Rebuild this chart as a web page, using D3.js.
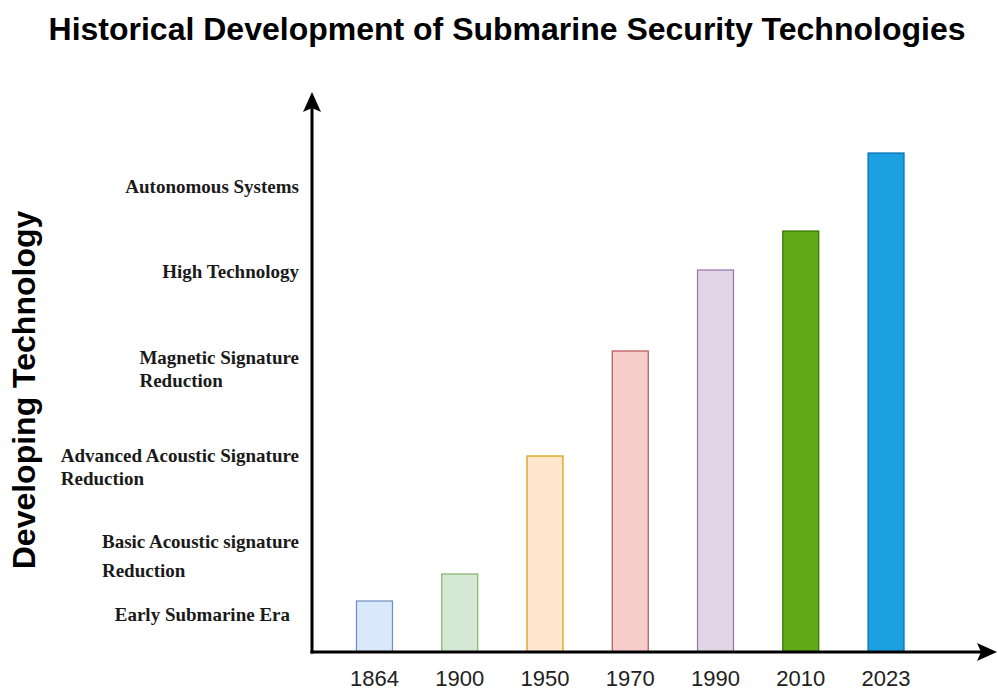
<!DOCTYPE html>
<html>
<head>
<meta charset="utf-8">
<script src="https://cdn.jsdelivr.net/npm/d3@7"></script>
<style>
  html, body { margin: 0; padding: 0; background: #fff; }
  svg { display: block; }
</style>
</head>
<body>
<svg id="chart" width="998" height="690"></svg>
<script>
// ---- data ----
const years = ["1864", "1900", "1950", "1970", "1990", "2010", "2023"];
const levels = [10.2, 15.6, 39.2, 60.2, 76.4, 84.2, 99.8];
const fills = ["#dae8fc", "#d5e8d4", "#ffe6cc", "#f8cecc", "#e1d5e7", "#60a917", "#1ba1e2"];
const strokes = ["#6c8ebf", "#82b366", "#d79b00", "#b85450", "#9673a6", "#2d7600", "#006eaf"];
const techLabels = [
  ["Early Submarine Era"],
  ["Basic Acoustic signature", "Reduction"],
  ["Advanced Acoustic Signature", "Reduction"],
  ["Magnetic Signature", "Reduction"],
  ["High Technology"],
  ["Autonomous Systems"]
];
const techLevels = [7.5, 19.2, 37, 56.6, 76.1, 93.1];
const titleText = "Historical Development of Submarine Security Technologies";
const yTitleText = "Developing Technology";

// ---- layout ----
const W = 998, H = 690;
const svg = d3.select("#chart");
const x0 = 312, y0 = 652;

const x = d3.scaleBand().domain(years).range([313, 947.5]).paddingInner(0.578).paddingOuter(0.51);
const y = d3.scaleLinear().domain([0, 100]).range([y0, 152]);

// title
svg.append("text")
  .attr("x", 507).attr("y", 40)
  .attr("text-anchor", "middle")
  .attr("font-family", "'Liberation Sans', Arial, sans-serif")
  .attr("font-weight", "bold")
  .attr("font-size", 32)
  .attr("fill", "#000")
  .text(titleText);

// y title
svg.append("text")
  .attr("transform", `translate(35,390) rotate(-90)`)
  .attr("text-anchor", "middle")
  .attr("font-family", "'Liberation Sans', Arial, sans-serif")
  .attr("font-weight", "bold")
  .attr("font-size", 32)
  .attr("fill", "#000")
  .text(yTitleText);

// bars
svg.append("g").selectAll("rect")
  .data(years)
  .join("rect")
  .attr("x", d => x(d))
  .attr("y", (d, i) => y(levels[i]))
  .attr("width", x.bandwidth())
  .attr("height", (d, i) => y(0) - y(levels[i]))
  .attr("fill", (d, i) => fills[i])
  .attr("stroke", (d, i) => strokes[i])
  .attr("stroke-width", 1.2);

// axes lines
const yTop = y(112);
const xTip = W - 1;
const axes = svg.append("g");
axes.append("line").attr("x1", x0).attr("y1", y0 + 1.5).attr("x2", x0).attr("y2", yTop + 14)
  .attr("stroke", "#000").attr("stroke-width", 3);
axes.append("line").attr("x1", x0 - 1.5).attr("y1", y0).attr("x2", xTip - 14).attr("y2", y0)
  .attr("stroke", "#000").attr("stroke-width", 3);
// arrowheads
axes.append("path")
  .attr("d", `M${x0},${yTop} L${x0 + 9},${yTop + 20} L${x0},${yTop + 16} L${x0 - 9},${yTop + 20} Z`)
  .attr("fill", "#000");
axes.append("path")
  .attr("d", `M${xTip},${y0} L${xTip - 20},${y0 - 9} L${xTip - 16},${y0} L${xTip - 20},${y0 + 9} Z`)
  .attr("fill", "#000");

// x tick labels via d3 axis
const xAxis = svg.append("g")
  .attr("transform", `translate(0,${y0})`)
  .call(d3.axisBottom(x).tickSize(0).tickPadding(18));
xAxis.select(".domain").remove();
xAxis.selectAll("text")
  .attr("font-family", "'Liberation Sans', Arial, sans-serif")
  .attr("font-size", 22)
  .attr("fill", "#222");

// y category labels
const labelRight = 299;
const lg = svg.append("g")
  .attr("font-family", "'Liberation Serif', 'Times New Roman', serif")
  .attr("font-weight", "bold")
  .attr("font-size", 19)
  .attr("fill", "#1a1a1a");
techLabels.forEach((lines, i) => {
  const lh = (i === 1) ? 29 : 23;
  const right = (i === 0) ? labelRight - 9 : labelRight;
  const cy = y(techLevels[i]);
  const firstBase = cy - (lines.length - 1) * lh / 2 + 6.5;
  const t = lg.append("text").attr("y", firstBase);
  const spans = lines.map((ln, k) => t.append("tspan").attr("dy", k === 0 ? 0 : lh).text(ln));
  const w = spans[0].node().getComputedTextLength();
  spans.forEach(s => s.attr("x", right - w));
});
</script>
</body>
</html>
